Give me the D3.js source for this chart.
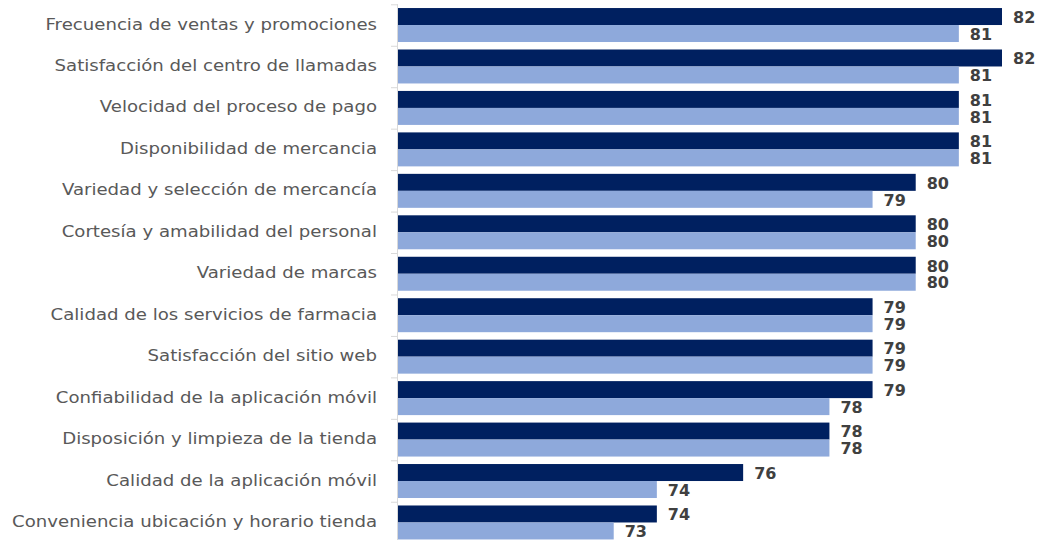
<!DOCTYPE html>
<html>
<head>
<meta charset="utf-8">
<script src="https://cdn.jsdelivr.net/npm/d3@7"></script>
<style>
  html, body { margin: 0; padding: 0; background: #fff; }
  #chart { width: 1040px; height: 540px; }
  .cat-label { font-family: 'DejaVu Sans', sans-serif; font-size: 15px; fill: #595959; }
  .value-label { font-family: 'DejaVu Sans', sans-serif; font-weight: bold; font-size: 16px; fill: #404040; }
</style>
</head>
<body>
<div id="chart"></div>
<script>
const categories = [
  'Frecuencia de ventas y promociones',
  'Satisfacción del centro de llamadas',
  'Velocidad del proceso de pago',
  'Disponibilidad de mercancia',
  'Variedad y selección de mercancía',
  'Cortesía y amabilidad del personal',
  'Variedad de marcas',
  'Calidad de los servicios de farmacia',
  'Satisfacción del sitio web',
  'Confiabilidad de la aplicación móvil',
  'Disposición y limpieza de la tienda',
  'Calidad de la aplicación móvil',
  'Conveniencia ubicación y horario tienda'
];
const seriesA = [82, 82, 81, 81, 80, 80, 80, 79, 79, 79, 78, 76, 74];
const seriesB = [81, 81, 81, 81, 79, 80, 80, 79, 79, 78, 78, 74, 73];
const seriesKeys = ['a', 'b'];
const seriesColors = ['#002060', '#8EA9DB'];
const xDomain = [68, 82];


/**
 * Grouped horizontal bars.
 */
class BarChart {

  constructor() {
    this._left = 398;
    this._right = 1002;
    this._top = 4.3;
    this._bottom = 543.2;
    this._labelRight = 377;
    this._labelStretch = 1.21;
  }

  renderTo(selector) {

    const container = d3.select(selector);
    container.selectAll('*').remove();

    const svg = container.append('svg')
      .attr('width', 1040)
      .attr('height', 540);

    const x = d3.scaleLinear()
      .domain(xDomain)
      .range([this._left, this._right]);

    const y = d3.scaleBand()
      .domain(categories)
      .range([this._top, this._bottom]);

    const inner = d3.scaleBand()
      .domain(seriesKeys)
      .range([0, y.bandwidth()])
      .paddingOuter(0.22);

    const rows = categories.map((c, i) => ({
      cat: c,
      values: [
        { key: 'a', value: seriesA[i] },
        { key: 'b', value: seriesB[i] }
      ]
    }));

    // axis line and ticks at category boundaries
    const axis = svg.append('g').attr('class', 'axis');
    axis.append('line')
      .attr('x1', this._left - 0.5).attr('x2', this._left - 0.5)
      .attr('y1', this._top).attr('y2', this._bottom)
      .style('stroke', '#d9d9d9');
    axis.selectAll('line.tick')
      .data(categories)
      .enter()
      .append('line')
      .attr('class', 'tick')
      .attr('x1', this._left - 7).attr('x2', this._left)
      .attr('y1', d => y(d) + 0.5).attr('y2', d => y(d) + 0.5)
      .style('stroke', '#d9d9d9');

    const groups = svg.selectAll('g.row')
      .data(rows)
      .enter()
      .append('g')
      .attr('class', 'row')
      .attr('transform', d => 'translate(0,' + y(d.cat) + ')');

    groups.selectAll('rect')
      .data(d => d.values)
      .enter()
      .append('rect')
      .attr('x', x(xDomain[0]))
      .attr('y', d => inner(d.key))
      .attr('width', d => x(d.value) - x(xDomain[0]))
      .attr('height', inner.bandwidth())
      .style('fill', (d, i) => seriesColors[i]);

    groups.selectAll('text.value-label')
      .data(d => d.values)
      .enter()
      .append('text')
      .attr('class', 'value-label')
      .attr('x', d => x(d.value) + 11)
      .attr('y', d => inner(d.key) + inner.bandwidth() / 2 + 0.5)
      .attr('dy', '0.36em')
      .text(d => d.value);

    // labels are a bit wider than the font, so stretch them horizontally
    groups.append('text')
      .attr('class', 'cat-label')
      .attr('transform', 'translate(' + this._labelRight + ',' + (y.bandwidth() / 2) + ') scale(' + this._labelStretch + ',1)')
      .attr('dy', '0.3em')
      .attr('text-anchor', 'end')
      .text(d => d.cat);

    return this;
  }
}

new BarChart().renderTo('#chart');
</script>
</body>
</html>
